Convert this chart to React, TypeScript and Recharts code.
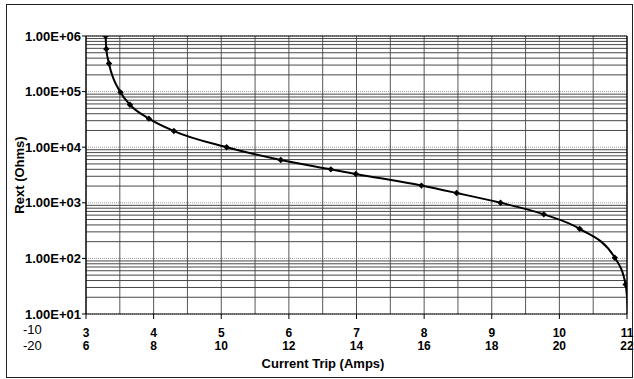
import React from "react";
import {
  LineChart, Line, XAxis, YAxis, ReferenceLine, Customized,
} from "recharts";

// Current trip (Amps, lower scale) vs external resistance (Ohms)
const currentTrip = [3.29, 3.3, 3.34, 3.51, 3.65, 3.93, 4.3, 5.08, 5.88, 6.62, 6.99, 7.96, 8.48, 9.13, 9.77, 10.3, 10.82, 10.98, 11.02];
const rext = [1000000, 583000, 320000, 97000, 58000, 32600, 19500, 10000, 5900, 4000, 3300, 2040, 1500, 1000, 620, 340, 103, 34, 10];

const xTicks = [3, 3.5, 4, 4.5, 5, 5.5, 6, 6.5, 7, 7.5, 8, 8.5, 9, 9.5, 10, 10.5, 11];
const yDecades = [10, 100, 1000, 10000, 100000, 1000000];
const yMinorSteps = [2, 3, 4, 5, 6, 7, 8, 9];
const yLabels = ["1.00E+01", "1.00E+02", "1.00E+03", "1.00E+04", "1.00E+05", "1.00E+06"];

const data = currentTrip.map((x, i) => ({ x, y: rext[i] }));
const yMinor = yDecades.slice(0, -1).flatMap((d) => yMinorSteps.map((m) => d * m));

const FONT = "'Liberation Sans', Arial, sans-serif";

const XTick = ({ x, y, payload }: any) => {
  const v = payload.value;
  if (!Number.isInteger(v)) return null;
  return (
    <g>
      <line x1={x} x2={x} y1={y} y2={y + 5} stroke="#000" strokeWidth={1} />
      <text x={x} y={y + 23} textAnchor="middle" fontFamily={FONT} fontWeight="bold" fontSize={12} fill="#000">{v}</text>
      <text x={x} y={y + 36} textAnchor="middle" fontFamily={FONT} fontWeight="bold" fontSize={12} fill="#000">{v * 2}</text>
      {v === 3 && (
        <>
          <text x={x - 63} y={y + 20} fontFamily={FONT} fontSize={13} fill="#000">-10</text>
          <text x={x - 63} y={y + 36} fontFamily={FONT} fontSize={13} fill="#000">-20</text>
        </>
      )}
    </g>
  );
};

const YTick = ({ x, y, payload }: any) => {
  const idx = yDecades.indexOf(payload.value);
  return (
    <g>
      <line x1={x - 4} x2={x} y1={y} y2={y} stroke="#000" />
      <text x={x - 5} y={y + 4.5} textAnchor="end" fontFamily={FONT} fontWeight="bold" fontSize={13} fill="#000">
        {yLabels[idx]}
      </text>
    </g>
  );
};

const Diamond = (props: any) => {
  const { cx, cy, index } = props;
  if (index === data.length - 1) return <g key={index} />;
  const s = 3.2;
  return (
    <path key={index} d={`M${cx},${cy - s}L${cx + s},${cy}L${cx},${cy + s}L${cx - s},${cy}Z`} fill="#000" />
  );
};

export default function App() {
  return (
    <div style={{ position: "fixed", left: 0, top: 0, width: 634, height: 379, background: "#fff" }}>
      <div style={{ position: "absolute", left: 6, top: 4, width: 627, height: 374, border: "1.5px solid #222", boxSizing: "border-box" }} />
      <LineChart width={634} height={379} data={data} margin={{ top: 36, right: 7, bottom: 15, left: 6 }}>
        {yMinor.map((v) => (
          <ReferenceLine key={"m" + v} y={v} stroke="#333" strokeWidth={0.9} />
        ))}
        {yDecades.map((v) => (
          <ReferenceLine key={"d" + v} y={v} stroke="#999" strokeWidth={1} strokeDasharray="1 1" />
        ))}
        {xTicks.map((v) => (
          <ReferenceLine key={"x" + v} x={v} stroke="#444" strokeWidth={0.9} />
        ))}
        <ReferenceLine y={1000000} stroke="#000" strokeWidth={1.2} />
        <ReferenceLine x={11} stroke="#000" strokeWidth={1.2} />
        <XAxis
          type="number"
          dataKey="x"
          domain={[3, 11]}
          ticks={xTicks}
          allowDataOverflow
          height={50}
          tickSize={0}
          tickMargin={0}
          tickLine={false}
          axisLine={{ stroke: "#000", strokeWidth: 1.2 }}
          tick={<XTick />}
          interval={0}
        />
        <YAxis
          type="number"
          dataKey="y"
          scale="log"
          domain={[10, 1000000]}
          ticks={yDecades}
          allowDataOverflow
          width={80}
          tickSize={0}
          tickMargin={0}
          tickLine={false}
          axisLine={{ stroke: "#000", strokeWidth: 1.2 }}
          tick={<YTick />}
          interval={0}
        />
        <Line
          type="monotone"
          dataKey="y"
          stroke="#000"
          strokeWidth={2}
          dot={<Diamond />}
          activeDot={false}
          isAnimationActive={false}
        />
        <Customized
          component={() => (
            <g>
              <text x={323} y={368} textAnchor="middle" fontFamily={FONT} fontWeight="bold" fontSize={13} fill="#000">
                Current Trip (Amps)
              </text>
              <text x={24} y={175} textAnchor="middle" fontFamily={FONT} fontWeight="bold" fontSize={13} fill="#000" transform="rotate(-90 24 175)">
                Rext (Ohms)
              </text>
            </g>
          )}
        />
      </LineChart>
    </div>
  );
}
